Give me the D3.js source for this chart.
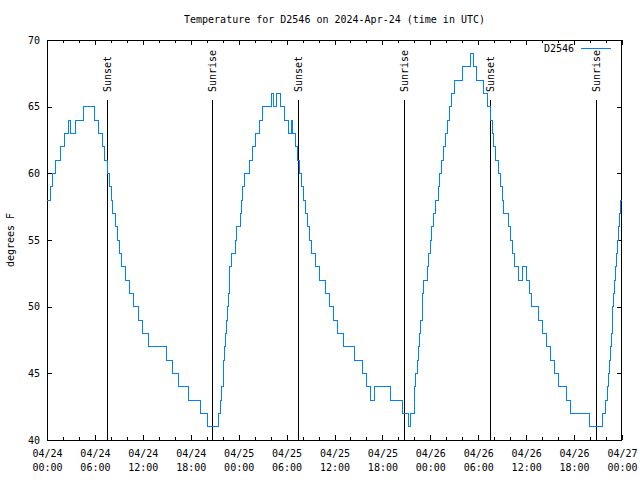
<!DOCTYPE html>
<html>
<head>
<meta charset="utf-8">
<script src="https://cdn.jsdelivr.net/npm/d3@7"></script>
<style>
  html, body { margin: 0; padding: 0; background: #fff; }
  svg { display: block; }
  text { font-family: "DejaVu Sans Mono", "Liberation Mono", monospace; font-size: 10px; fill: #000; }
</style>
</head>
<body>
<svg id="chart" width="640" height="480"></svg>
<script>
// ---- data ----
const chartTitle = "Temperature for D2546 on 2024-Apr-24 (time in UTC)";
const seriesName = "D2546";
const yLabel = "degrees F";
// hours since 2024-04-24 00:00 UTC at which the reading changed to the value below
const changeHours = [
  0.00, 0.50, 0.75, 1.06, 1.63, 2.13, 2.75, 2.94, 3.51, 4.57, 6.01, 6.51, 6.89, 7.26, 7.58,
  7.83, 8.08, 8.26, 8.55, 8.83, 9.02, 9.39, 9.80, 10.31, 10.81, 11.46, 11.90, 12.68, 14.93,
  15.74, 16.44, 17.66, 19.28, 20.10, 21.50, 21.73, 21.91, 22.04, 22.16, 22.24, 22.33, 22.44,
  22.57, 22.69, 22.82, 22.89, 23.10, 23.60, 23.79, 24.17, 24.36, 24.54, 24.73, 25.36, 25.73,
  26.11, 26.61, 26.99, 28.17, 28.42, 28.74, 29.30, 29.68, 30.18, 30.59, 30.80, 31.12, 31.31,
  31.62, 31.87, 32.12, 32.31, 32.62, 32.81, 33.06, 33.56, 34.12, 34.87, 35.37, 35.88, 36.35,
  37.07, 38.51, 39.51, 40.01, 40.51, 40.95, 43.01, 44.52, 45.27, 45.52, 45.96, 46.06, 46.17,
  46.37, 46.52, 46.67, 46.83, 46.96, 47.05, 47.17, 47.65, 47.83, 48.02, 48.17, 48.40, 48.65,
  48.96, 49.17, 49.40, 49.59, 49.84, 50.12, 50.34, 50.65, 51.03, 52.03, 53.03, 53.41, 53.78,
  54.66, 55.10, 55.56, 55.79, 55.97, 56.16, 56.54, 56.79, 56.98, 57.13, 57.79, 58.04, 58.29,
  58.51, 59.01, 59.54, 60.02, 60.42, 60.73, 61.55, 62.05, 62.55, 63.05, 63.55, 64.05, 64.99,
  65.49, 67.99, 69.50, 69.94, 70.19, 70.31, 70.44, 70.59, 70.71, 70.79, 70.87, 70.97, 71.06,
  71.16, 71.28, 71.40, 71.50, 71.63, 71.82, 72.00
];
const temps = [
  58, 59, 60, 61, 62, 63, 64, 63, 64, 65, 64, 63, 62, 61, 60,
  59, 58, 57, 56, 55, 54, 53, 52, 51, 50, 49, 48, 47, 46,
  45, 44, 43, 42, 41, 42, 43, 44, 45, 46, 47, 48, 49,
  50, 51, 52, 53, 54, 55, 56, 57, 58, 59, 60, 61, 62,
  63, 64, 65, 66, 65, 66, 65, 64, 63, 64, 63, 62, 61,
  60, 59, 58, 57, 56, 55, 54, 53, 52, 51, 50, 49, 48,
  47, 46, 45, 44, 43, 44, 43, 42, 41, 42, 43, 44, 45,
  46, 47, 48, 49, 50, 51, 52, 53, 54, 55, 56, 57, 58,
  59, 60, 61, 62, 63, 64, 65, 66, 67, 68, 69, 68, 67,
  66, 65, 64, 63, 62, 61, 60, 59, 58, 57, 56, 55, 54,
  53, 52, 53, 52, 51, 50, 49, 48, 47, 46, 45, 44, 43,
  42, 41, 42, 43, 44, 45, 46, 47, 48, 49, 50, 51, 52,
  53, 54, 55, 56, 57, 58, 58
];
const sunLabels = ["Sunset", "Sunrise", "Sunset", "Sunrise", "Sunset", "Sunrise"];
const sunHours = [7.55, 20.70, 31.47, 44.74, 55.51, 68.78];
const yTicks = [40, 45, 50, 55, 60, 65, 70];

// ---- drawing ----
const svg = d3.select("#chart");
const start = Date.UTC(2024, 3, 24);
const toDate = h => new Date(start + h * 3600e3);
const plotL = 47, plotR = 622, plotT = 40, plotB = 440;

const x = d3.scaleUtc().domain([toDate(0), toDate(72)]).range([plotL, plotR]);
const y = d3.scaleLinear().domain([40, 70]).range([plotB, plotT]);

const data = changeHours.map((h, i) => ({ date: toDate(h), temp: temps[i] }));

// title
svg.append("text").attr("x", (plotL + plotR) / 2).attr("y", 23)
  .attr("text-anchor", "middle").text(chartTitle);

// y label
svg.append("text").attr("transform", "translate(14,240) rotate(-90)")
  .attr("text-anchor", "middle").text(yLabel);

// axes
const majorX = d3.utcHour.every(6);
const fmtDay = d3.utcFormat("%m/%d"), fmtTime = d3.utcFormat("%H:%M");

const gx = svg.append("g").attr("transform", `translate(0,${plotB})`)
  .call(d3.axisBottom(x).ticks(majorX).tickSize(-5).tickPadding(8).tickFormat(""));
gx.selectAll(".tick text").attr("y", null).attr("dy", null).each(function(d) {
  const t = d3.select(this);
  t.append("tspan").attr("x", 0).attr("y", 17).text(fmtDay(d));
  t.append("tspan").attr("x", 0).attr("y", 31).text(fmtTime(d));
});
svg.append("g").attr("transform", `translate(0,${plotB})`)
  .call(d3.axisBottom(x).ticks(d3.utcHour.every(2)).tickSize(-3).tickFormat(""));
svg.append("g").attr("transform", `translate(0,${plotT})`)
  .call(d3.axisTop(x).ticks(majorX).tickSize(-5).tickFormat(""));
svg.append("g").attr("transform", `translate(0,${plotT})`)
  .call(d3.axisTop(x).ticks(d3.utcHour.every(2)).tickSize(-3).tickFormat(""));

svg.append("g").attr("transform", `translate(${plotL},0)`)
  .call(d3.axisLeft(y).tickValues(yTicks).tickSize(-5).tickPadding(7));
svg.append("g").attr("transform", `translate(${plotR},0)`)
  .call(d3.axisRight(y).tickValues(yTicks).tickSize(-5).tickFormat(""));

svg.selectAll(".domain").remove();
svg.selectAll(".tick line").attr("stroke", "#000").attr("shape-rendering", "crispEdges");
svg.selectAll(".tick text").attr("fill", "#000")
  .style("font-family", '"DejaVu Sans Mono", monospace').style("font-size", "10px");

// border
svg.append("rect").attr("x", plotL + 0.5).attr("y", plotT + 0.5)
  .attr("width", plotR - plotL - 1).attr("height", plotB - plotT)
  .attr("fill", "none").attr("stroke", "#000").attr("shape-rendering", "crispEdges");

// sunrise / sunset markers
sunHours.forEach((h, i) => {
  const sx = Math.round(x(toDate(h))) + 0.5;
  svg.append("line").attr("x1", sx).attr("x2", sx).attr("y1", 100).attr("y2", plotB)
    .attr("stroke", "#000").attr("stroke-width", 1).attr("shape-rendering", "crispEdges");
  svg.append("text").attr("transform", `translate(${sx + 3.5},92) rotate(-90)`)
    .attr("text-anchor", "start").text(sunLabels[i]);
});

// series line
svg.append("path").datum(data)
  .attr("fill", "none").attr("stroke", "#0080ff").attr("stroke-width", 1)
  .attr("shape-rendering", "crispEdges")
  .attr("d", d3.line().x(d => x(d.date)).y(d => y(d.temp)).curve(d3.curveStepAfter));

// legend
svg.append("text").attr("x", 574).attr("y", 52).attr("text-anchor", "end").text(seriesName);
svg.append("line").attr("x1", 581).attr("x2", 611).attr("y1", 48.5).attr("y2", 48.5)
  .attr("stroke", "#0080ff").attr("stroke-width", 1);
</script>
</body>
</html>
